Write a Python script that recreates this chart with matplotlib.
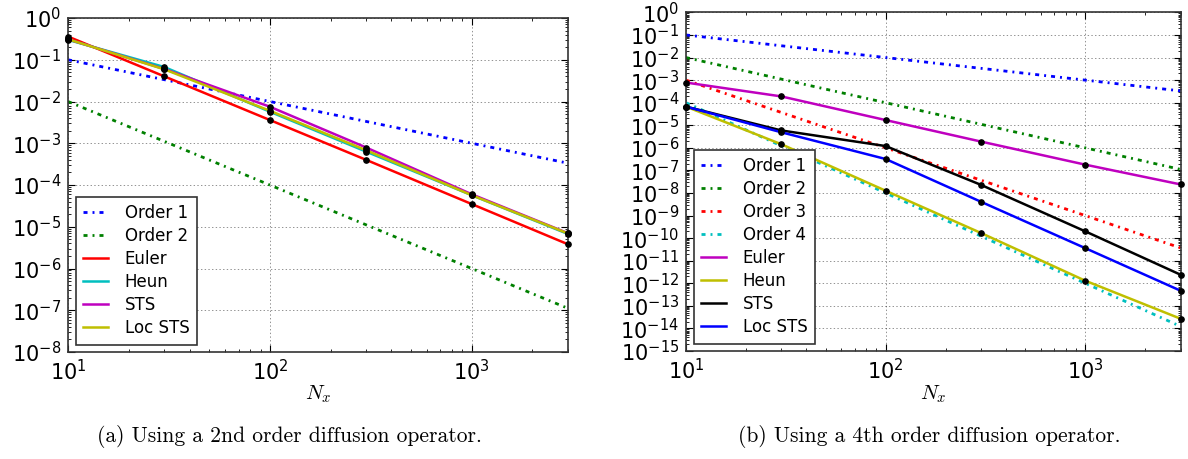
import numpy as np
import matplotlib
matplotlib.use("Agg")
import matplotlib.pyplot as plt
from matplotlib.ticker import FixedLocator, LogLocator, LogFormatterSciNotation, NullFormatter

# ---------------- data ----------------
N = [10, 30, 100, 300, 1000, 3000]

# (a) 2nd order diffusion operator
a_order1 = [1e-1, 3.33e-2, 1e-2, 3.33e-3, 1e-3, 3.33e-4]
a_order2 = [1e-2, 1.11e-3, 1e-4, 1.11e-5, 1e-6, 1.11e-7]
a_euler = [0.36, 0.040, 3.6e-3, 4.0e-4, 3.5e-5, 3.8e-6]
a_heun = [0.30, 0.067, 5.7e-3, 6.3e-4, 5.7e-5, 6.7e-6]
a_sts = [0.31, 0.060, 7.5e-3, 7.9e-4, 6.0e-5, 7.0e-6]
a_locsts = [0.31, 0.059, 6.0e-3, 6.8e-4, 5.7e-5, 6.9e-6]

# (b) 4th order diffusion operator
b_order1 = [1e-1, 3.33e-2, 1e-2, 3.33e-3, 1e-3, 3.33e-4]
b_order2 = [1e-2, 1.11e-3, 1e-4, 1.11e-5, 1e-6, 1.11e-7]
b_order3 = [1e-3, 3.7e-5, 1e-6, 3.7e-8, 1e-9, 3.7e-11]
b_order4 = [1e-4, 1.23e-6, 1e-8, 1.23e-10, 1e-12, 1.23e-14]
b_euler = [7.8e-4, 1.9e-4, 1.7e-5, 1.9e-6, 1.8e-7, 2.4e-8]
b_heun = [6.7e-5, 1.45e-6, 1.26e-8, 1.7e-10, 1.3e-12, 2.7e-14]
b_sts = [6.7e-5, 5.9e-6, 1.2e-6, 2.3e-8, 2.0e-10, 2.4e-12]
b_locsts = [6.7e-5, 4.9e-6, 3.2e-7, 4.1e-9, 3.6e-11, 4.7e-13]

labels_a = ["Order 1", "Order 2", "Euler", "Heun", "STS", "Loc STS"]
labels_b = ["Order 1", "Order 2", "Order 3", "Order 4", "Euler", "Heun", "STS", "Loc STS"]
caption_a = "(a) Using a 2nd order diffusion operator."
caption_b = "(b) Using a 4th order diffusion operator."

# ---------------- style ----------------
plt.rcParams['lines.scale_dashes'] = False
C = {'b': (0, 0, 1), 'g': (0, 0.5, 0), 'r': (1, 0, 0), 'c': (0, 0.75, 0.75),
     'm': (0.75, 0, 0.75), 'y': (0.75, 0.75, 0), 'k': (0, 0, 0)}
DASH = (2.9, 3.6, 1.4, 3.6)

W, H = 1188, 459
fig = plt.figure(figsize=(W / 100, H / 100), dpi=100)

def px_axes(x0, y0, x1, y1):
    return fig.add_axes([x0 / W, 1 - y1 / H, (x1 - x0) / W, (y1 - y0) / H])

ax1 = px_axes(68, 18, 568, 352)
ax2 = px_axes(686, 12.4, 1180.5, 351)

def style_axes(ax, ymin_exp):
    ax.set_xscale('log')
    ax.set_yscale('log')
    ax.set_xlim(10, 3000)
    ax.set_ylim(10.0 ** ymin_exp, 1)
    ax.yaxis.set_major_locator(FixedLocator([10.0 ** e for e in range(ymin_exp, 1)]))
    ax.yaxis.set_major_formatter(LogFormatterSciNotation())
    ax.yaxis.set_minor_locator(LogLocator(base=10, subs=np.arange(2, 10), numticks=100))
    ax.yaxis.set_minor_formatter(NullFormatter())
    ax.xaxis.set_major_locator(FixedLocator([10, 100, 1000]))
    ax.xaxis.set_major_formatter(LogFormatterSciNotation())
    ax.xaxis.set_minor_locator(LogLocator(base=10, subs=np.arange(2, 10), numticks=100))
    ax.xaxis.set_minor_formatter(NullFormatter())
    ax.tick_params(which='both', direction='in', top=True, right=True, labelsize=15, color='k')
    ax.tick_params(which='major', length=5, width=0.8, pad=5)
    ax.tick_params(which='minor', length=2.5, width=0.6)
    ax.grid(True, which='major', linestyle=':', color='k', linewidth=0.6, alpha=0.5)
    for s in ax.spines.values():
        s.set_color('#333333')
        s.set_linewidth(1.2)

style_axes(ax1, -8)
style_axes(ax2, -15)

# (a)
ax1.plot(N, a_order1, color=C['b'], lw=2, dashes=DASH, label=labels_a[0])
ax1.plot(N, a_order2, color=C['g'], lw=2, dashes=DASH, label=labels_a[1])
for ys, c, lab in [(a_euler, 'r', labels_a[2]), (a_heun, 'c', labels_a[3]),
                   (a_sts, 'm', labels_a[4]), (a_locsts, 'y', labels_a[5])]:
    ax1.plot(N, ys, color=C[c], lw=1.8, label=lab)
for ys in [a_euler, a_heun, a_sts, a_locsts]:
    ax1.plot(N, ys, 'o', color='k', ms=3.8, zorder=5, clip_on=False)

# (b)
for ys, c, lab in [(b_order1, 'b', labels_b[0]), (b_order2, 'g', labels_b[1]),
                   (b_order3, 'r', labels_b[2]), (b_order4, 'c', labels_b[3])]:
    ax2.plot(N, ys, color=C[c], lw=2, dashes=DASH, label=lab)
for ys, c, lab in [(b_euler, 'm', labels_b[4]), (b_heun, 'y', labels_b[5]),
                   (b_sts, 'k', labels_b[6]), (b_locsts, 'b', labels_b[7])]:
    ax2.plot(N, ys, color=C[c], lw=1.8, label=lab)
for ys in [b_euler, b_heun, b_sts, b_locsts]:
    ax2.plot(N, ys, 'o', color='k', ms=3.8, zorder=5, clip_on=False)

for ax in (ax1, ax2):
    leg = ax.legend(loc='lower left', fontsize=12, fancybox=False, framealpha=1,
                    edgecolor='#333333', handlelength=1.5, handletextpad=1.0,
                    labelspacing=0.30, borderpad=0.45, borderaxespad=0.45)
    leg.get_frame().set_linewidth(1.2)

# axis labels and captions
fig.text(318 / W, 1 - 394 / H, r'$N_x$', ha='center', va='center', fontsize=15, math_fontfamily='cm')
fig.text(933 / W, 1 - 394 / H, r'$N_x$', ha='center', va='center', fontsize=15, math_fontfamily='cm')
fig.text(289 / W, 1 - 437 / H, caption_a, ha='center', va='center', fontsize=15.5, family='cmr10')
fig.text(929 / W, 1 - 437 / H, caption_b, ha='center', va='center', fontsize=15.5, family='cmr10')

fig.savefig('out.png', dpi=100)
